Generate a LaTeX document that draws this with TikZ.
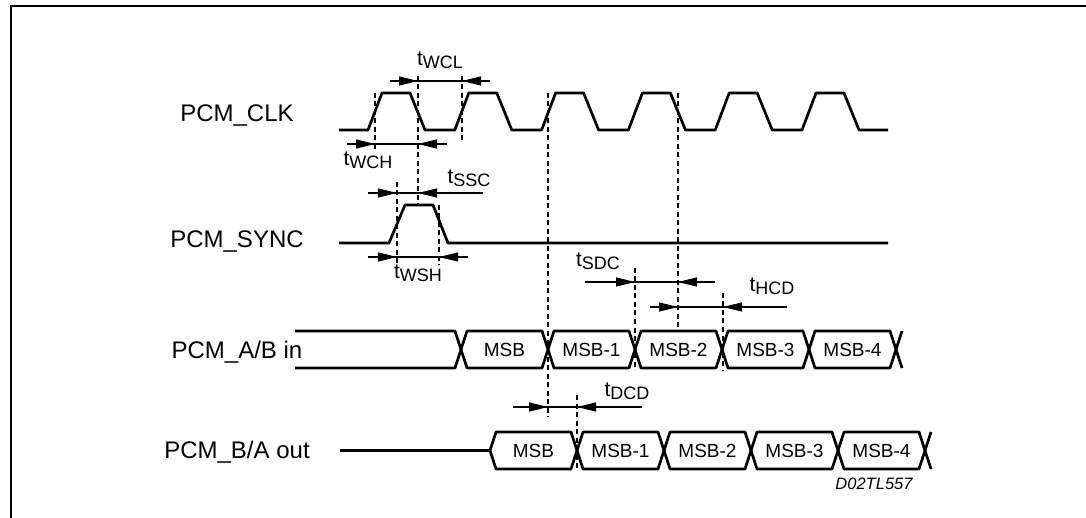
\documentclass[tikz,border=0pt]{standalone}
\usepackage{fontspec}
\setmainfont{Liberation Sans}
\usetikzlibrary{arrows.meta,calc,positioning}
\tikzset{
    wave/.style = {draw, line width=2.7pt, line join=round},
    guide/.style = {draw, line width=1.1pt, dash pattern=on 5pt off 3.5pt},
    dim/.style = {draw, line width=1.1pt},
    dimarrow/.style = {draw, line width=1.1pt, -{Triangle[length=19pt,width=9pt]}},
    siglabel/.style = {font=\fontsize{24}{26}\selectfont, inner sep=0pt},
    datalabel/.style = {font=\fontsize{19}{21}\selectfont, inner sep=0pt},
    tlabel/.style = {font=\fontsize{21}{23}\selectfont, inner sep=0pt},
    reflabel/.style = {font=\fontsize{16.5}{18}\selectfont\itshape, inner sep=0pt}
}
\newcommand{\tsub}[1]{t\raisebox{-3pt}{\fontsize{18}{18}\selectfont #1}}
% timing arrow: y, left end, right end, tip from left, tip from right
\newcommand{\dimline}[5]{%
    \draw [dim] (#2,#1) -- (#3,#1);
    \draw [dimarrow] (#2,#1) -- (#4,#1);
    \draw [dimarrow] (#3,#1) -- (#5,#1);
}

\begin{document}
\begin{tikzpicture}[x=1pt, y=-1pt]
    \useasboundingbox (0,0) rectangle (1086,518);
    \draw [line width=2pt] (11,520) -- (11,6) -- (1088,6);

    % signal names
    \node [siglabel] (clk) at (237,116) {PCM\_CLK};
    \node [siglabel] (sync) at (237,242) {PCM\_SYNC};
    \node [siglabel] (abin) at (237,352) {PCM\_A/B in};
    \node [siglabel] (baout) at (237,452) {PCM\_B/A out};

    % clock
    \draw [wave] (339,130) foreach \k in {0,...,5}{
        -- ({368+86.8*\k},130) -- ++(14,-37) -- ++(28,0) -- ++(15,37)} -- (888,130);
    % sync
    \draw [wave] (339,243) -- (389,243) -- (405,205) -- (433,205) -- (448,243) -- (888,243);

    % PCM_A/B in
    \draw [wave] (295,331) -- (455,331) -- (461,349.5) -- (455,368) -- (295,368);
    \foreach \c/\lab/\n in {461/MSB/ab0, 548/MSB-1/ab1, 635/MSB-2/ab2, 722/MSB-3/ab3, 809/MSB-4/ab4}{
        \draw [wave] (\c,349.5) -- ({\c+6},331) -- ({\c+81},331) -- ({\c+87},349.5)
            -- ({\c+81},368) -- ({\c+6},368) -- cycle;
        \node [datalabel] (\n) at ({\c+43.5},350) {\lab};
    }
    \draw [wave] (902,331) -- (896,349.5) -- (902,368);

    % PCM_B/A out
    \draw [wave] (340,450.5) -- (490,450.5);
    \foreach \c/\lab/\n in {490/MSB/ba0, 577/MSB-1/ba1, 664/MSB-2/ba2, 751/MSB-3/ba3, 838/MSB-4/ba4}{
        \draw [wave] (\c,450.5) -- ({\c+6},432) -- ({\c+81},432) -- ({\c+87},450.5)
            -- ({\c+81},469) -- ({\c+6},469) -- cycle;
        \node [datalabel] (\n) at ({\c+43.5},451) {\lab};
    }
    \draw [wave] (931,432) -- (925,450.5) -- (931,469);

    % dashed guides
    \foreach \x/\ya/\yb in {375/93/150, 418/76/205, 462/76/140, 548/93/417, 678/93/331,
        397/182/268, 439/205/265, 635/268/370, 723/293/370, 577/395/470}
        \draw [guide] (\x,\ya) -- (\x,\yb);

    % timing parameters
    \dimline{81}{390}{490}{418}{462}
    \node [tlabel] (twcl) at (440,60) {\tsub{WCL}};
    \dimline{144}{347}{447}{375}{418}
    \node [tlabel] (twch) at (368,160) {\tsub{WCH}};
    \dimline{193}{368}{483}{397}{418}
    \node [tlabel] (tssc) at (469,178) {\tsub{SSC}};
    \dimline{257}{368}{468}{397}{439}
    \node [tlabel] (twsh) at (418,273) {\tsub{WSH}};
    \dimline{282}{585}{715}{635}{678}
    \node [tlabel] (tsdc) at (598,261) {\tsub{SDC}};
    \dimline{307}{650}{787}{678}{723}
    \node [tlabel] (thcd) at (772,286) {\tsub{HCD}};
    \dimline{407}{513}{642}{548}{577}
    \node [tlabel] (tdcd) at (627,391) {\tsub{DCD}};

    \node [reflabel] (ref) at (874,484) {D02TL557};
\end{tikzpicture}
\end{document}
